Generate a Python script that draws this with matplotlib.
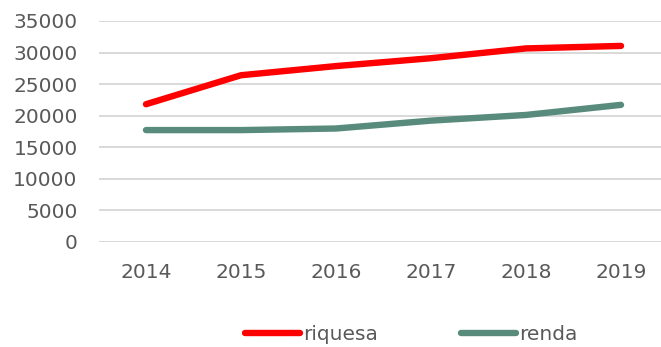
import matplotlib
matplotlib.use("Agg")
import matplotlib.pyplot as plt
from matplotlib.lines import Line2D

years = ["2014", "2015", "2016", "2017", "2018", "2019"]
riquesa = [21800, 26400, 27850, 29100, 30650, 31050]
renda = [17700, 17700, 17950, 19200, 20100, 21700]
y_ticks = [0, 5000, 10000, 15000, 20000, 25000, 30000, 35000]

RED = "#FF0000"
GREEN = "#588B7B"
TEXT = "#595959"
GRID = "#D9D9D9"
FS = 14.5
LW = 4.6

fig = plt.figure(figsize=(6.61, 3.47), dpi=100)
W, H = 661, 347
left, right = 98.5, 668.5
bottom, top = 241.7, 21.0
ax = fig.add_axes([left / W, (H - bottom) / H, (right - left) / W, (bottom - top) / H])

x = list(range(len(years)))
ax.plot(x, riquesa, color=RED, lw=LW, solid_capstyle="round", solid_joinstyle="round", zorder=3)
ax.plot(x, renda, color=GREEN, lw=LW, solid_capstyle="round", solid_joinstyle="round", zorder=3)

ax.set_xlim(-0.5, len(years) - 0.5)
ax.set_ylim(0, 35000)
ax.set_yticks(y_ticks)
ax.set_yticklabels([str(v) for v in y_ticks])
ax.set_xticks(x)
ax.set_xticklabels(years)
ax.yaxis.grid(True, color=GRID, lw=1.4)
ax.set_axisbelow(True)
for s in ax.spines.values():
    s.set_visible(False)
ax.tick_params(axis="both", length=0, labelsize=FS, labelcolor=TEXT)
ax.tick_params(axis="y", pad=15)
ax.tick_params(axis="x", pad=15)

handles = [
    Line2D([], [], color=RED, lw=LW, solid_capstyle="round"),
    Line2D([], [], color=GREEN, lw=LW, solid_capstyle="round"),
]
leg = fig.legend(handles, ["riquesa", "renda"], loc="center",
                 bbox_to_anchor=(411 / W, (H - 335) / H), ncol=2, frameon=False,
                 fontsize=FS, handlelength=2.75, handletextpad=0.15,
                 columnspacing=4.1, borderpad=0, borderaxespad=0)
for t in leg.get_texts():
    t.set_color(TEXT)

fig.savefig("out.png", dpi=100)
